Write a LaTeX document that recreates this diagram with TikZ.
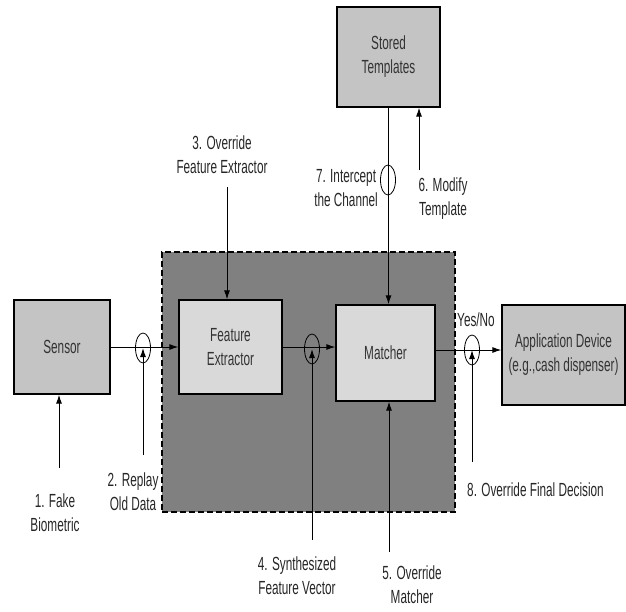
\documentclass[tikz,border=0pt]{standalone}
\usepackage{fontspec}
\setmainfont[FakeStretch=0.62]{Liberation Sans}
\usetikzlibrary{arrows.meta,shapes.geometric}
\definecolor{BoxClr}{gray}{0.77}
\definecolor{InBoxClr}{gray}{0.85}
\definecolor{ZoneClr}{gray}{0.5}
\definecolor{TxtClr}{gray}{0.2}

\begin{document}
\begin{tikzpicture}[x=1pt,y=-1pt,>={Latex[length=9pt,width=6pt]},
  font=\fontsize{19}{24}\selectfont,
  box/.style={draw,line width=1.3pt,fill=BoxClr,text=TxtClr,align=center,inner sep=0pt},
  inbox/.style={box,fill=InBoxClr},
  zone/.style={draw,line width=2pt,dash pattern=on 6pt off 3pt,fill=ZoneClr,inner sep=0pt},
  tap/.style={draw,ellipse,line width=0.8pt,minimum width=15,minimum height=30,inner sep=0pt},
  lbl/.style={align=center,inner sep=1pt,text=black!85},
  wire/.style={line width=1pt}]
\useasboundingbox (0,0) rectangle (626,611);

% attacked region
\node[zone] (zone) at (308.5,382) [minimum width=293,minimum height=260] {};

% blocks
\node[box] (sensor) at (62,347) [minimum width=96,minimum height=94] {Sensor};
\node[inbox] (fe) at (230.5,347) [minimum width=103,minimum height=94] {Feature\\Extractor};
\node[inbox] (matcher) at (385.5,353) [minimum width=99,minimum height=96] {Matcher};
\node[box] (app) at (563.5,355) [minimum width=123,minimum height=100] {Application Device\\(e.g.,cash dispenser)};
\node[box] (st) at (388.5,57) [minimum width=103,minimum height=100] {Stored\\Templates};

% attack points on the channels
\node[tap] (c2) at (143,348) {};
\node[tap] (c4) at (312,349) {};
\node[tap] (c8) at (472,350) {};
\node[tap] (c7) at (388,180) {};

% channels
\draw[wire,->] (sensor) -- (fe);
\draw[wire,->] (fe.east) -- (fe.east -| matcher.west);
\draw[wire,->] (c8 -| matcher.east) -- (c8 -| app.west);
\draw[wire,->] (st.south) -- (st.south |- matcher.north);

% attacks
\coordinate (s1) at (59,468);
\coordinate (s2) at (143,455);
\coordinate (s3) at (227,187);
\coordinate (s4) at (312,540);
\coordinate (s5) at (389,552);
\coordinate (s6) at (419,170);
\coordinate (s8) at (472,462);

\draw[wire,->] (s1) -- (s1 |- sensor.south);
\draw[wire,->] (s2) -- (c2.center);
\draw[wire,->] (s3) -- (s3 |- fe.north);
\draw[wire,->] (s4) -- (c4.center);
\draw[wire,->] (s5) -- (s5 |- matcher.south);
\draw[wire,->] (s6) -- (s6 |- st.south);
\draw[wire,->] (s8) -- (c8.center);

% labels
\node[lbl] (t1) at (55,513) {1. Fake\\Biometric};
\node[lbl] (t2) at (133,492) {2. Replay\\Old Data};
\node[lbl] (t3) at (222,155) {3. Override\\Feature Extractor};
\node[lbl] (t4) at (297,576) {4. Synthesized\\Feature Vector};
\node[lbl] (t5) at (412,585) {5. Override\\Matcher};
\node[lbl] (t6) at (443,199) {6. Modify\\Template};
\node[lbl,anchor=east] (t7) at (379,188) {7. Intercept\\the Channel};
\node[lbl,anchor=west] (t8) at (466,490) {8. Override Final Decision};
\node[lbl] (yn) at (476,320) {Yes/No};
\end{tikzpicture}
\end{document}
